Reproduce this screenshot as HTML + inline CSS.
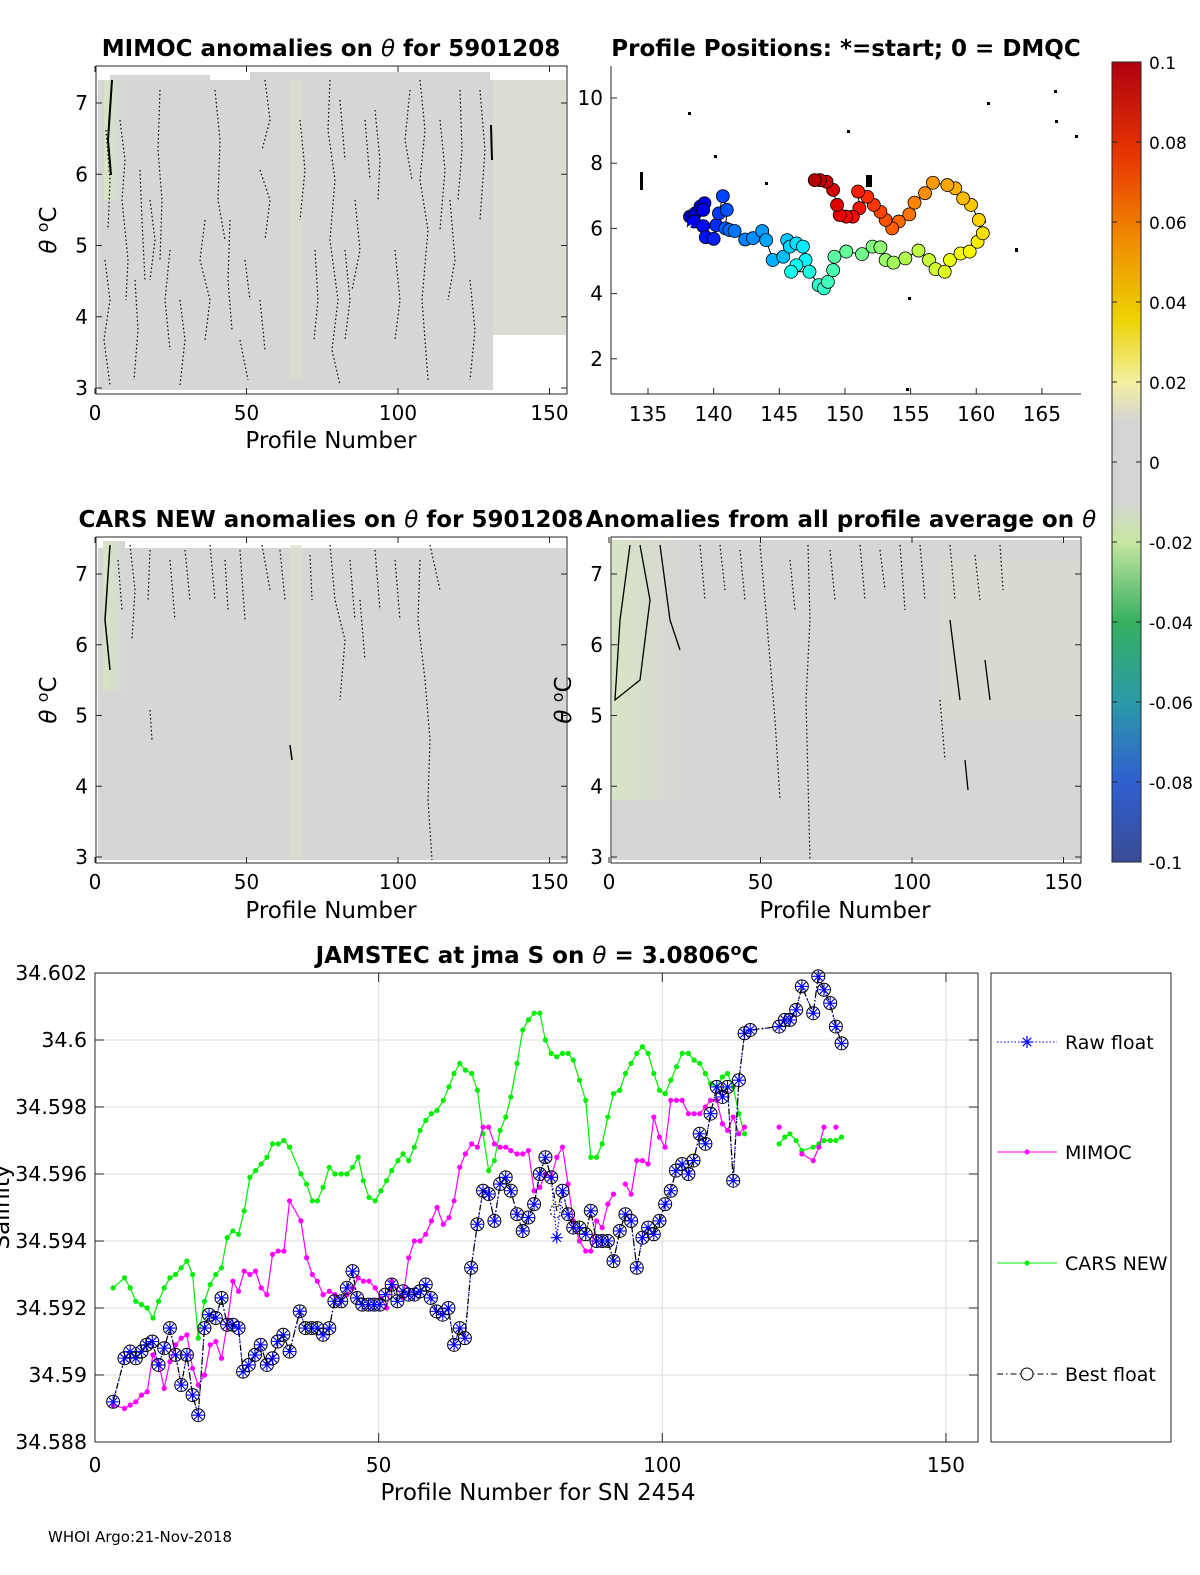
<!DOCTYPE html>
<html><head><meta charset="utf-8"><style>
body{margin:0;background:#fff}
svg{display:block;font-family:"DejaVu Sans","Liberation Sans",sans-serif}
</style></head><body>
<svg id="fig" width="1200" height="1575" viewBox="0 0 1200 1575" xmlns="http://www.w3.org/2000/svg">
<defs>
<linearGradient id="cb" x1="0" y1="1" x2="0" y2="0">
<stop offset="0" stop-color="#3a4c96"/><stop offset="0.1" stop-color="#2f5fd0"/><stop offset="0.2" stop-color="#2a9aa8"/>
<stop offset="0.3" stop-color="#35b060"/><stop offset="0.4" stop-color="#c6e6a0"/><stop offset="0.45" stop-color="#d4d4d4"/>
<stop offset="0.55" stop-color="#d4d4d4"/><stop offset="0.6" stop-color="#f2f0a0"/><stop offset="0.68" stop-color="#ecd200"/>
<stop offset="0.78" stop-color="#f08a00"/><stop offset="0.88" stop-color="#e83800"/><stop offset="1" stop-color="#b00010"/>
</linearGradient>
<linearGradient id="gt" x1="0" x2="1"><stop offset="0" stop-color="#d8e4c4"/><stop offset="1" stop-color="#d6d6d6"/></linearGradient>
</defs>

<!-- TOP-LEFT heatmap -->
<g>
<text x="331" y="56" text-anchor="middle" font-size="23" font-weight="bold">MIMOC anomalies on <tspan font-style="italic" font-weight="normal">θ</tspan>  for 5901208</text>
<rect x="98" y="80" width="395" height="310" fill="#d6d6d6"/>
<rect x="493" y="80" width="73" height="255" fill="#dcdcd2"/>
<rect x="110" y="75" width="100" height="10" fill="#d6d6d6"/><rect x="250" y="72" width="240" height="10" fill="#d6d6d6"/>
<rect x="104" y="80" width="20" height="120" fill="url(#gt)"/>
<rect x="290" y="80" width="12" height="300" fill="#d9e0cc" opacity="0.7"/>
<g fill="none" stroke="#000" stroke-width="1.2" stroke-dasharray="1.5 2.5">
<path d="M106 130 L110 180 L108 230 M120 120 L125 160 L122 200 L128 260 L126 300 M140 170 L142 220 L145 280 M160 90 L158 150 L162 200 L160 260 M170 250 L165 300 L170 350 M215 90 L220 140 L218 200 L225 240 M230 220 L228 280 L232 330 M260 170 L270 200 L265 240 M240 340 L248 380 M330 80 L328 130 L335 180 L330 240 L338 300 L332 350 L340 385 M345 250 L350 300 L345 340 M340 100 L345 160 M375 110 L380 160 L378 200 M420 80 L425 130 L420 180 L428 230 L422 300 L428 380 M440 120 L445 170 L440 230 M460 90 L462 150 L458 200"/>
<path d="M105 260 L110 300 L104 340 L110 385 M135 280 L138 330 L134 380 M150 200 L155 240 L150 280 M180 300 L185 340 L180 385 M205 220 L200 260 L210 300 L205 340 M245 260 L250 300 M265 80 L270 120 L262 150 M300 120 L305 170 L300 220 M315 250 L318 300 L314 340 M355 200 L360 250 L352 290 M365 120 L370 180 M395 250 L400 300 L395 340 M410 90 L405 140 L412 180 M450 200 L455 260 L448 300 M470 280 L475 330 L470 380 M480 90 L485 150 L480 220 M260 300 L265 350"/>
</g>
<path d="M112 80 L108 140 L111 175 M491 125 L492 160" fill="none" stroke="#000" stroke-width="2"/>
<rect x="96" y="66" width="471" height="328" fill="none" stroke="#262626" stroke-width="1"/>
</g>

<!-- MIDDLE-LEFT heatmap -->
<g>
<text x="331" y="527" text-anchor="middle" font-size="23" font-weight="bold">CARS NEW anomalies on <tspan font-style="italic" font-weight="normal">θ</tspan> for 5901208</text>
<rect x="98" y="548" width="468" height="312" fill="#d6d6d6"/>
<rect x="103" y="541" width="22" height="150" fill="url(#gt)"/>
<rect x="290" y="545" width="12" height="315" fill="#d9e0cc" opacity="0.7"/>
<g fill="none" stroke="#000" stroke-width="1.2" stroke-dasharray="1.5 2.5">
<path d="M130 545 L135 590 L132 640 M150 550 L148 600 M170 560 L175 620 M210 545 L215 600 M240 550 L245 620 M262 545 L270 590 M330 545 L335 600 L345 640 L340 700 M350 560 L355 620 M360 600 L365 660 M420 560 L418 620 L425 680 L430 740 L428 800 L432 860 M150 710 L152 740 M430 545 L440 590"/>
<path d="M118 560 L122 610 M185 550 L190 600 M225 560 L228 610 M280 550 L285 600 M310 555 L312 600 M375 550 L380 610 M395 560 L400 620"/>
</g>
<path d="M110 545 L105 620 L110 670 M290 745 L292 760" fill="none" stroke="#000" stroke-width="1.5"/>
<rect x="96" y="537" width="471" height="326" fill="none" stroke="#262626" stroke-width="1"/>
</g>

<!-- MIDDLE-RIGHT heatmap -->
<g>
<text x="841" y="527" text-anchor="middle" font-size="23" font-weight="bold">Anomalies from all profile average on <tspan font-style="italic" font-weight="normal">θ</tspan></text>
<rect x="612" y="540" width="468" height="320" fill="#d6d6d6"/>
<rect x="612" y="540" width="70" height="260" fill="url(#gt)"/>
<rect x="940" y="560" width="140" height="160" fill="#dadacd" opacity="0.7"/>
<g fill="none" stroke="#000" stroke-width="1.2" stroke-dasharray="1.5 2.5">
<path d="M700 545 L705 600 M760 545 L765 600 L770 660 L775 720 L780 800 M808 545 L810 620 L806 700 L810 860 M860 545 L865 600 M900 545 L905 610 M950 545 L955 600 M1000 545 L1003 590 M940 700 L945 760"/>
<path d="M720 545 L725 590 M740 550 L745 600 M790 560 L795 610 M830 550 L835 600 M880 550 L885 590 M920 545 L925 600 M975 555 L980 600"/>
</g>
<path d="M630 545 L620 620 L615 700 L640 680 L650 600 L640 545 M660 545 L670 620 L680 650 M950 620 L960 700 M985 660 L990 700 M965 760 L968 790" fill="none" stroke="#000" stroke-width="1.3"/>
<rect x="611" y="537" width="470" height="326" fill="none" stroke="#262626" stroke-width="1"/>
</g>

<g id="heatAxes"></g>

<!-- MAP -->
<g>
<text x="846" y="56" text-anchor="middle" font-size="23" font-weight="bold">Profile Positions: *=start; 0 = DMQC</text>
<line x1="611" y1="66" x2="611" y2="394" stroke="#262626"/>
<line x1="611" y1="394" x2="1081" y2="394" stroke="#262626"/>
<g fill="#000"><rect x="640" y="172" width="3" height="18"/><rect x="714" y="155" width="3" height="3"/><rect x="765" y="182" width="3" height="3"/><rect x="866" y="175" width="6" height="12"/><rect x="1015" y="248" width="3" height="4"/><rect x="908" y="297" width="3" height="3"/><rect x="987" y="102" width="3" height="3"/><rect x="1054" y="90" width="3" height="3"/><rect x="1075" y="135" width="3" height="3"/><rect x="906" y="388" width="3" height="3"/><rect x="688" y="112" width="3" height="3"/><rect x="847" y="130" width="3" height="3"/><rect x="960" y="195" width="3" height="3"/><rect x="983" y="220" width="3" height="3"/><rect x="1055" y="120" width="3" height="3"/></g>
<g id="mapMarks"></g>
</g>

<!-- COLORBAR -->
<g>
<rect x="1112" y="62" width="29" height="800" fill="url(#cb)" stroke="#262626"/>
<g id="cbTicks"></g>
</g>

<!-- BOTTOM CHART -->
<g>
<text x="537" y="963" text-anchor="middle" font-size="23" font-weight="bold">JAMSTEC at jma S on <tspan font-style="italic" font-weight="normal">θ</tspan> = 3.0806<tspan dy="-8" font-size="16">o</tspan><tspan dy="8">C</tspan></text>
<rect x="95" y="973" width="883" height="469" fill="#fff"/>
<g id="grid"></g>
<g id="series"></g>
<rect x="95" y="973" width="883" height="469" fill="none" stroke="#262626"/>
<text x="538" y="1500" text-anchor="middle" font-size="23">Profile Number for SN 2454</text>
<text transform="translate(9,1207) rotate(-90)" text-anchor="middle" font-size="23">Salinity</text>
</g>
<g>
<rect x="991" y="973" width="180" height="469" fill="#fff" stroke="#262626"/>
<g><line x1="997" y1="1042" x2="1057" y2="1042" stroke="#0000ff" stroke-dasharray="1.5 2"/><path d="M1021 1042h12M1027 1036v12M1022.8 1037.8l8.4 8.4M1022.8 1046.2l8.4 -8.4" stroke="#0000ff" stroke-width="1.2"/><text x="1065" y="1049" font-size="19">Raw float</text></g>
<g><line x1="997" y1="1152" x2="1057" y2="1152" stroke="#ff00ff"/><circle cx="1027" cy="1152" r="2.5" fill="#ff00ff"/><text x="1065" y="1159" font-size="19">MIMOC</text></g>
<g><line x1="997" y1="1263" x2="1057" y2="1263" stroke="#00ee00"/><circle cx="1027" cy="1263" r="2.5" fill="#00ee00"/><text x="1065" y="1270" font-size="19">CARS NEW</text></g>
<g><line x1="997" y1="1374" x2="1057" y2="1374" stroke="#000" stroke-dasharray="6 3 1.5 3"/><circle cx="1027" cy="1374" r="6" fill="#fff" stroke="#000"/><text x="1065" y="1381" font-size="19">Best float</text></g>
</g>
<text x="48" y="1542" font-size="15">WHOI Argo:21-Nov-2018</text>
</svg>
<script>
const NS="http://www.w3.org/2000/svg";
const bfX=[3.2,5.2,6.2,7.2,8.2,9.1,10.1,11.2,12.2,13.2,14.2,15.2,16.2,17.2,18.2,19.3,20.1,21.3,22.3,23.3,24.3,25.3,26.1,27.1,28.2,29.2,30.3,31.3,32.2,33.2,34.3,36.1,37.1,38.2,39.2,40.2,41.3,42.2,43.4,44.4,45.4,46.2,47.1,48.2,49.2,50.2,51.2,52.3,53.3,54.3,55.3,56.3,57.3,58.3,59.2,60.2,61.3,62.3,63.3,64.3,65.2,66.3,67.4,68.4,69.4,70.4,71.4,72.4,73.3,74.4,75.4,76.4,77.4,78.4,79.4,80.4,81.4,82.4,83.4,84.3,85.4,86.5,87.4,88.4,89.4,90.4,91.4,92.5,93.5,94.5,95.5,96.5,97.5,98.5,99.5,100.5,101.5,102.4,103.5,104.6,105.5,106.6,107.6,108.5,109.6,110.6,111.5,112.5,113.5,114.5,115.5,120.6,121.6,122.5,123.6,124.6,126.6,127.5,128.5,129.6,130.6,131.6];
const bfY=[34.5892,34.5905,34.5907,34.5905,34.5907,34.5909,34.5910,34.5903,34.5908,34.5914,34.5906,34.5897,34.5906,34.5894,34.5888,34.5914,34.5918,34.5917,34.5923,34.5915,34.5915,34.5914,34.5901,34.5903,34.5906,34.5909,34.5903,34.5905,34.5910,34.5912,34.5907,34.5919,34.5914,34.5914,34.5914,34.5912,34.5914,34.5922,34.5922,34.5926,34.5931,34.5923,34.5921,34.5921,34.5921,34.5921,34.5924,34.5927,34.5922,34.5925,34.5924,34.5924,34.5925,34.5927,34.5923,34.5919,34.5918,34.5920,34.5909,34.5914,34.5911,34.5932,34.5945,34.5955,34.5954,34.5946,34.5957,34.5959,34.5955,34.5948,34.5943,34.5947,34.5951,34.5960,34.5965,34.5959,34.5949,34.5955,34.5948,34.5944,34.5944,34.5942,34.5949,34.5940,34.5940,34.5940,34.5934,34.5943,34.5948,34.5946,34.5932,34.5941,34.5944,34.5942,34.5946,34.5951,34.5955,34.5961,34.5963,34.5960,34.5964,34.5972,34.5969,34.5978,34.5986,34.5983,34.5986,34.5958,34.5988,34.6002,34.6003,34.6004,34.6006,34.6006,34.6009,34.6016,34.6008,34.6019,34.6015,34.6011,34.6004,34.5999];
const rawDiffX=[81.4];
const rawDiffY=[34.5941];
const mX=[3.2,5.2,6.2,7.2,8.2,9.2,10.2,11.3,12.2,13.2,14.2,15.2,16.2,17.2,18.2,19.3,20.3,21.3,22.3,23.3,24.3,25.3,26.3,27.3,28.3,29.3,30.3,31.3,32.3,33.3,34.3,36.3,37.3,38.3,39.2,40.2,41.3,42.3,43.4,44.4,45.4,46.4,47.3,48.3,49.4,50.4,51.4,52.3,54.3,55.3,56.3,57.3,58.3,59.3,60.3,61.4,62.4,63.3,64.3,65.3,66.4,67.4,68.4,69.4,70.4,71.4,72.4,73.3,74.4,75.4,76.4,77.4,78.4,79.4,80.4,81.4,82.4,83.4,84.3,85.4,86.5,87.4,88.4,89.4,90.4,91.4,null,93.5,94.5,95.5,96.5,97.5,98.5,99.5,100.5,101.5,102.5,103.5,104.6,105.6,106.6,107.6,108.5,109.6,110.6,111.5,112.5,113.5,114.5,null,120.6,null,124.6,126.6,127.6,128.5,null,130.6];
const mY=[34.5891,34.5890,34.5891,34.5892,34.5894,34.5895,34.5906,34.5903,34.5896,34.5904,34.5909,34.5911,34.5912,34.5902,34.5897,34.5900,34.5909,34.5910,34.5905,34.5915,34.5928,34.5925,34.5931,34.5930,34.5931,34.5926,34.5924,34.5936,34.5937,34.5937,34.5952,34.5946,34.5935,34.5930,34.5928,34.5924,34.5925,34.5924,34.5922,34.5924,34.5926,34.5929,34.5928,34.5928,34.5926,34.5923,34.5920,34.5928,34.5923,34.5935,34.5940,34.5940,34.5942,34.5946,34.5950,34.5945,34.5947,34.5952,34.5962,34.5966,34.5969,34.5968,34.5974,34.5974,34.5969,34.5968,34.5968,34.5967,34.5966,34.5966,34.5967,34.5955,34.5956,34.5960,34.5959,34.5965,34.5968,34.5957,34.5946,34.5940,34.5937,34.5937,34.5946,34.5944,34.5951,34.5954,null,34.5957,34.5954,34.5964,34.5964,34.5963,34.5977,34.5971,34.5968,34.5982,34.5982,34.5982,34.5978,34.5978,34.5978,34.5980,34.5982,34.5982,34.5975,34.5973,34.5977,34.5972,34.5974,null,34.5974,null,34.5966,34.5964,34.5968,34.5974,null,34.5974];
const cX=[3.2,5.2,6.2,7.2,8.2,9.2,10.2,11.2,12.2,13.2,14.2,15.2,16.2,17.2,18.2,19.3,20.3,21.3,22.3,23.3,24.3,25.3,26.3,27.3,28.3,29.3,30.3,31.3,32.3,33.3,34.3,36.3,37.3,38.3,39.2,40.2,41.3,42.3,43.4,44.4,45.4,46.4,47.3,48.3,49.4,50.4,51.4,52.3,53.4,54.3,55.3,56.3,57.3,58.3,59.3,60.3,61.4,62.4,63.3,64.3,65.3,66.4,67.4,68.4,69.4,70.4,71.4,72.4,73.3,74.4,75.4,76.4,77.4,78.4,79.4,80.4,81.4,82.4,83.4,84.3,85.4,86.5,87.4,88.4,89.4,90.4,91.4,92.5,93.5,94.5,95.5,96.5,97.5,98.5,99.5,100.5,101.5,102.5,103.5,104.6,105.6,106.6,107.6,108.5,109.6,110.6,111.5,112.5,113.5,114.5,null,120.6,121.6,122.5,123.6,124.6,126.6,127.6,128.5,129.6,130.6,131.6];
const cY=[34.5926,34.5929,34.5926,34.5922,34.5921,34.5920,34.5917,34.5922,34.5926,34.5929,34.5930,34.5932,34.5934,34.5930,34.5911,34.5922,34.5927,34.5930,34.5932,34.5941,34.5943,34.5942,34.5949,34.5959,34.5961,34.5963,34.5965,34.5969,34.5969,34.5970,34.5968,34.5960,34.5957,34.5952,34.5952,34.5956,34.5962,34.5960,34.5960,34.5960,34.5962,34.5965,34.5958,34.5953,34.5952,34.5955,34.5958,34.5961,34.5964,34.5966,34.5964,34.5968,34.5973,34.5976,34.5978,34.5979,34.5982,34.5986,34.5990,34.5993,34.5991,34.5990,34.5985,34.5972,34.5961,34.5964,34.5973,34.5977,34.5983,34.5993,34.6003,34.6006,34.6008,34.6008,34.6000,34.5996,34.5995,34.5996,34.5996,34.5994,34.5988,34.5982,34.5965,34.5965,34.5969,34.5977,34.5984,34.5985,34.5990,34.5993,34.5996,34.5998,34.5996,34.5990,34.5985,34.5984,34.5988,34.5992,34.5996,34.5996,34.5994,34.5993,34.5990,34.5987,34.5986,34.5989,34.5990,34.5986,34.5978,34.5972,null,34.5969,34.5971,34.5972,34.5970,34.5967,34.5968,34.5969,34.5970,34.5970,34.5970,34.5971];
const sXTicks=[0,50,100,150];
const sYTicks=[34.588,34.590,34.592,34.594,34.596,34.598,34.600,34.602];
const sYLabels=["34.588","34.59","34.592","34.594","34.596","34.598","34.6","34.602"];
const mapLon=[137.9,138.2,138.6,139.0,139.3,139.2,138.5,139.2,139.4,140.0,140.2,140.4,140.7,141.0,140.9,141.2,141.6,142.4,143.0,143.7,144.0,144.5,145.3,145.6,145.8,146.3,146.8,147.0,146.3,145.9,147.3,148.0,148.4,148.7,149.1,149.2,150.1,151.3,152.1,152.7,153.1,153.7,154.6,155.6,156.4,156.9,157.6,158.0,158.8,159.5,160.1,160.5,160.2,159.6,159.0,158.4,157.8,156.7,156.1,155.3,154.9,154.1,153.6,153.1,152.7,152.2,151.7,151.0,151.1,150.6,150.1,149.6,149.4,149.1,148.6,148.1,147.7];
const mapLat=[5.95,6.36,6.46,6.67,6.77,6.57,6.21,6.07,5.73,5.68,6.10,6.46,6.99,6.57,6.00,5.95,5.92,5.66,5.70,5.92,5.64,5.03,5.13,5.64,5.44,5.54,5.44,5.03,4.87,4.67,4.67,4.26,4.16,4.36,4.72,5.13,5.29,5.21,5.44,5.42,5.03,4.95,5.08,5.32,5.03,4.75,4.67,5.03,5.23,5.29,5.59,5.85,6.26,6.72,6.92,7.23,7.33,7.40,7.08,6.79,6.43,6.21,6.00,6.26,6.51,6.72,6.97,7.13,6.62,6.36,6.36,6.41,6.72,7.18,7.43,7.48,7.48];
const mapXTicks=[135,140,145,150,155,160,165];
const mapYTicks=[2,4,6,8,10];
const heatXTicks=[0,50,100,150];
const heatYTicks=[3,4,5,6,7];
const cbTicks=[-0.1,-0.08,-0.06,-0.04,-0.02,0,0.02,0.04,0.06,0.08,0.1];
const cbLabels=["-0.1","-0.08","-0.06","-0.04","-0.02","0","0.02","0.04","0.06","0.08","0.1"];

function el(tag,attrs,parent,txt){const e=document.createElementNS(NS,tag);for(const k in attrs)e.setAttribute(k,attrs[k]);if(txt!==undefined)e.textContent=txt;parent.appendChild(e);return e;}
const sx=v=>95+v*5.673, sy=v=>1442-(v-34.588)*33500;
const grid=document.getElementById('grid'), ser=document.getElementById('series');
sXTicks.forEach(t=>{const x=sx(t);
 const g=el('line',{x1:x,y1:973,x2:x,y2:1442,stroke:'#dcdcdc'},grid);
 
 
 el('line',{x1:x,y1:1442,x2:x,y2:1433,stroke:'#262626'},grid);el('line',{x1:x,y1:973,x2:x,y2:982,stroke:'#262626'},grid);
 const l=el('text',{x:x,y:1472,'text-anchor':'middle','font-size':20},grid,String(t));
 
 });
sYTicks.forEach((t,i)=>{const y=sy(t);
 const g=el('line',{x1:95,y1:y,x2:978,y2:y,stroke:'#dcdcdc'},grid);
 
 
 el('line',{x1:95,y1:y,x2:104,y2:y,stroke:'#262626'},grid);el('line',{x1:978,y1:y,x2:969,y2:y,stroke:'#262626'},grid);
 const l=el('text',{x:87,y:y+7,'text-anchor':'end','font-size':20.5},grid,sYLabels[i]);
 
 });
function pathOf(xs,ys){let d='',pen=false;const n=Math.min(xs.length,ys.length);
 for(let i=0;i<n;i++){if(xs[i]==null||ys[i]==null){pen=false;continue;}d+=(pen?'L':'M')+sx(xs[i]).toFixed(1)+' '+sy(ys[i]).toFixed(1)+' ';pen=true;}return d;}
function line(xs,ys,stroke,dash,name){const p=el('path',{d:pathOf(xs,ys),fill:'none',stroke:stroke,'stroke-width':1.2},ser);if(dash)p.setAttribute('stroke-dasharray',dash);
 
 }
function dots(xs,ys,color,name){const n=Math.min(xs.length,ys.length);for(let i=0;i<n;i++){if(xs[i]==null||ys[i]==null)continue;
 const c=el('circle',{cx:sx(xs[i]),cy:sy(ys[i]),r:2.6,fill:color},ser);
 
 }}
line(cX,cY,'#00ee00',null,'cars-line');dots(cX,cY,'#00ee00','cars-point');
line(mX,mY,'#ff00ff',null,'mimoc-line');dots(mX,mY,'#ff00ff','mimoc-point');
const rawY=bfX.map((x,i)=>{const k=rawDiffX.indexOf(x);return k>=0?rawDiffY[k]:bfY[i];});
line(bfX,rawY,'#0000ff','1.5 2','raw-float-line');
line(bfX,bfY,'#000','6 3 1.5 3','best-float-line');
const nb=Math.min(bfX.length,bfY.length);
for(let i=0;i<nb;i++){const x=sx(bfX[i]),yb=sy(bfY[i]),yr=sy(rawY[i]);
 const c=el('circle',{cx:x,cy:yb,r:6.5,fill:'none',stroke:'#000','stroke-width':1,'stroke-dasharray':rawY[i]!==bfY[i]?'2 2':'none'},ser);
 
 
 const s=el('path',{d:`M${x-6} ${yr}h12M${x} ${yr-6}v12M${x-4.2} ${yr-4.2}l8.4 8.4M${x-4.2} ${yr+4.2}l8.4 -8.4`,stroke:'#0000ff','stroke-width':1.1,fill:'none'},ser);
 
 }

const ha=document.getElementById('heatAxes');
const panels=[{x0:96,x1:567,xz:95,y0:66,y1:394,y7:103,y3:388,xl:331,xt:448},
 {x0:96,x1:567,xz:95,y0:537,y1:863,y7:574,y3:857,xl:331,xt:918},
 {x0:611,x1:1081,xz:609,y0:537,y1:863,y7:574,y3:857,xl:845,xt:918}];
panels.forEach(p=>{const hx=v=>p.xz+v*3.03, hy=v=>p.y3-(v-3)*(p.y3-p.y7)/4;
 heatXTicks.forEach(t=>{const x=hx(t);el('line',{x1:x,y1:p.y1,x2:x,y2:p.y1-6,stroke:'#262626'},ha);el('line',{x1:x,y1:p.y0,x2:x,y2:p.y0+6,stroke:'#262626'},ha);
  const l=el('text',{x:x,y:p.y1+26,'text-anchor':'middle','font-size':20},ha,String(t));
  
  });
 heatYTicks.forEach(t=>{const y=hy(t);el('line',{x1:p.x0,y1:y,x2:p.x0+6,y2:y,stroke:'#262626'},ha);el('line',{x1:p.x1,y1:y,x2:p.x1-6,y2:y,stroke:'#262626'},ha);
  const l=el('text',{x:p.x0-8,y:y+7,'text-anchor':'end','font-size':20},ha,String(t));
  
  });
 const xt=el('text',{x:p.xl,y:p.xt,'text-anchor':'middle','font-size':23},ha,'Profile Number');
 
 
 const yt=el('text',{transform:`translate(${p.x0-40},${(p.y0+p.y1)/2}) rotate(-90)`,'text-anchor':'middle','font-size':23},ha);
 yt.innerHTML='<tspan font-style="italic">θ</tspan> <tspan dy="-8" font-size="16">o</tspan><tspan dy="8">C</tspan>';
 
 });

const mm=document.getElementById('mapMarks');
const mx=v=>648+(v-135)*13.13, my=v=>98+(10-v)*32.6;
mapXTicks.forEach(t=>{const x=mx(t);el('line',{x1:x,y1:394,x2:x,y2:388,stroke:'#262626'},mm);
 const l=el('text',{x:x,y:421,'text-anchor':'middle','font-size':20},mm,String(t));
 
 });
mapYTicks.forEach(t=>{const y=my(t);el('line',{x1:611,y1:y,x2:617,y2:y,stroke:'#262626'},mm);
 const l=el('text',{x:603,y:y+7,'text-anchor':'end','font-size':20},mm,String(t));
 
 });
let md='';mapLon.forEach((v,i)=>{md+=(i?'L':'M')+mx(v).toFixed(1)+' '+my(mapLat[i]).toFixed(1);});
el('path',{d:md,fill:'none',stroke:'#000','stroke-width':1},mm);
function jet(t){const r=Math.min(1,Math.max(0,1.5-Math.abs(4*t-3))),g=Math.min(1,Math.max(0,1.5-Math.abs(4*t-2))),b=Math.min(1,Math.max(0,1.5-Math.abs(4*t-1)));
 return `rgb(${Math.round(r*255)},${Math.round(g*255)},${Math.round(b*255)})`;}
const nm=Math.min(mapLon.length,mapLat.length);
for(let i=1;i<nm;i++){const c=el('circle',{cx:mx(mapLon[i]),cy:my(mapLat[i]),r:6.5,fill:jet(0.05+0.9*i/(nm-1)),stroke:'#000','stroke-width':0.8},mm);
 
 }
const sx0=mx(mapLon[0]),sy0=my(mapLat[0]);
const st=el('path',{d:`M${sx0-7} ${sy0}h14M${sx0} ${sy0-7}v14M${sx0-5} ${sy0-5}l10 10M${sx0-5} ${sy0+5}l10 -10`,stroke:'#fff','stroke-width':1.5,fill:'none'},mm);



const cbt=document.getElementById('cbTicks');
const cy=v=>862-(v+0.1)*4000;
cbTicks.forEach((t,i)=>{const y=cy(t);el('line',{x1:1112,y1:y,x2:1117,y2:y,stroke:'#262626'},cbt);el('line',{x1:1141,y1:y,x2:1136,y2:y,stroke:'#262626'},cbt);
 const l=el('text',{x:1149,y:y+7,'font-size':17},cbt,cbLabels[i]);
 
 });
</script>
</body></html>
